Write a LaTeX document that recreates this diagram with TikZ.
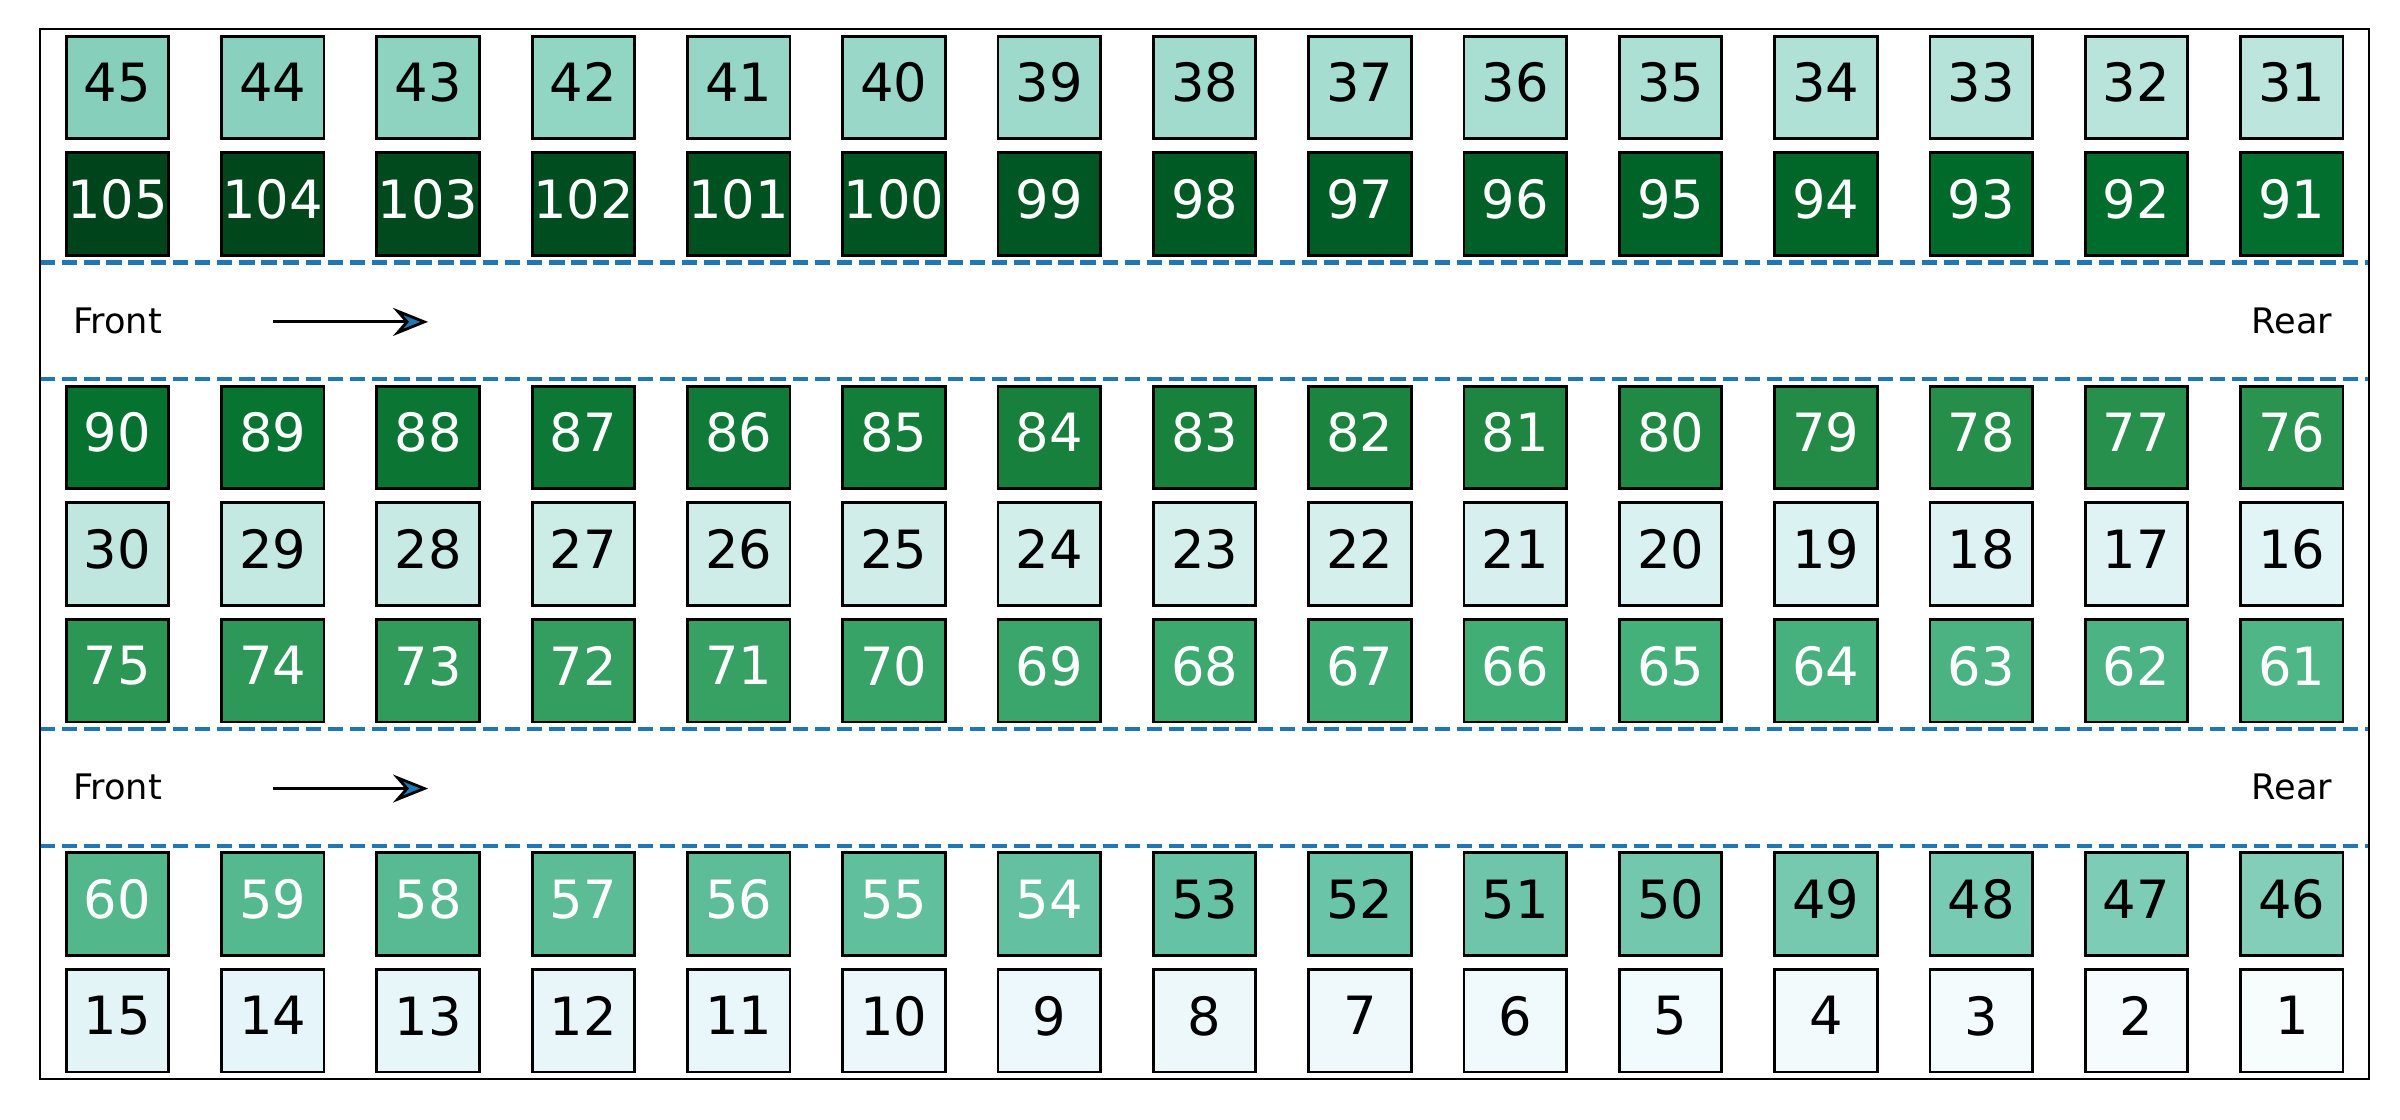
\documentclass[tikz,border=0pt]{standalone}
\usepackage{fontspec}
\setmainfont{DejaVu Sans}
\usetikzlibrary{arrows.meta}

% BuGn colour steps
\definecolor{bg0}{HTML}{F7FCFD}
\definecolor{bg1}{HTML}{E5F5F9}
\definecolor{bg2}{HTML}{CCECE6}
\definecolor{bg3}{HTML}{99D8C9}
\definecolor{bg4}{HTML}{66C2A4}
\definecolor{bg5}{HTML}{41AE76}
\definecolor{bg6}{HTML}{238B45}
\definecolor{bg7}{HTML}{006D2C}
\definecolor{bg8}{HTML}{00441B}
\definecolor{aisleblue}{HTML}{1F77B4}

\tikzset{
  seat/.style={draw=black, line width=0.8pt, minimum width=1.025cm,
    minimum height=1.025cm, inner sep=0pt, text depth=0.1cm,
    font=\fontsize{15}{18}\selectfont},
  aisle/.style={aisleblue, line width=1.2pt, dash pattern=on 4.4pt off 1.9pt},
  sidelabel/.style={font=\fontsize{10}{12}\selectfont},
  heading/.style={-{Stealth[length=10pt,width=8pt,inset=3.5pt,fill=aisleblue]}, line width=0.8pt},
}

\begin{document}
\begin{tikzpicture}[x=1.5531cm, y=-1.1666cm]
    \useasboundingbox (-0.2563,-0.2494) rectangle (15.197,9.351);
    % Draw the seats
    \foreach \k/\first in {0/45, 1/105, 3/90, 4/30, 5/75, 7/60, 8/15} {
      \foreach \i in {0,...,14} {
        \pgfmathtruncatemacro{\seatno}{\first-\i}
        \pgfmathsetmacro{\tpos}{(\seatno-1)/13}
        \pgfmathtruncatemacro{\seg}{min(floor(\tpos),7)}
        \pgfmathtruncatemacro{\nxt}{\seg+1}
        \pgfmathtruncatemacro{\pct}{round((\tpos-\seg)*100)}
        \colorlet{seatfill}{bg\nxt!\pct!bg\seg}
        \ifnum\seatno>53 \def\seattext{white}\else\def\seattext{black}\fi
        \node[seat, fill=seatfill, text=\seattext] (s\seatno) at (\i+0.5,\k+0.5) {\seatno};
      }
    }
    % Draw the aisles
    \draw[aisle] (0,2) -- (15,2);
    \draw[aisle] (0,3) -- (15,3);
    \draw[aisle] (0,6) -- (15,6);
    \draw[aisle] (0,7) -- (15,7);
    % Label the upper aisle
    \node[sidelabel] (fronta) at (0.5,2.5) {Front};
    \node[sidelabel] (reara) at (14.5,2.5) {Rear};
    \coordinate (gofroma) at (1.5,2.51);
    \coordinate (gotoa) at (2.5,2.51);
    \draw[heading] (gofroma) -- (gotoa);
    % Label the lower aisle
    \node[sidelabel] (frontb) at (0.5,6.5) {Front};
    \node[sidelabel] (rearb) at (14.5,6.5) {Rear};
    \coordinate (gofromb) at (1.5,6.51);
    \coordinate (gotob) at (2.5,6.51);
    \draw[heading] (gofromb) -- (gotob);
    % Draw the frame
    \draw[line width=0.6pt] (0,0) rectangle (15,9);
\end{tikzpicture}
\end{document}
